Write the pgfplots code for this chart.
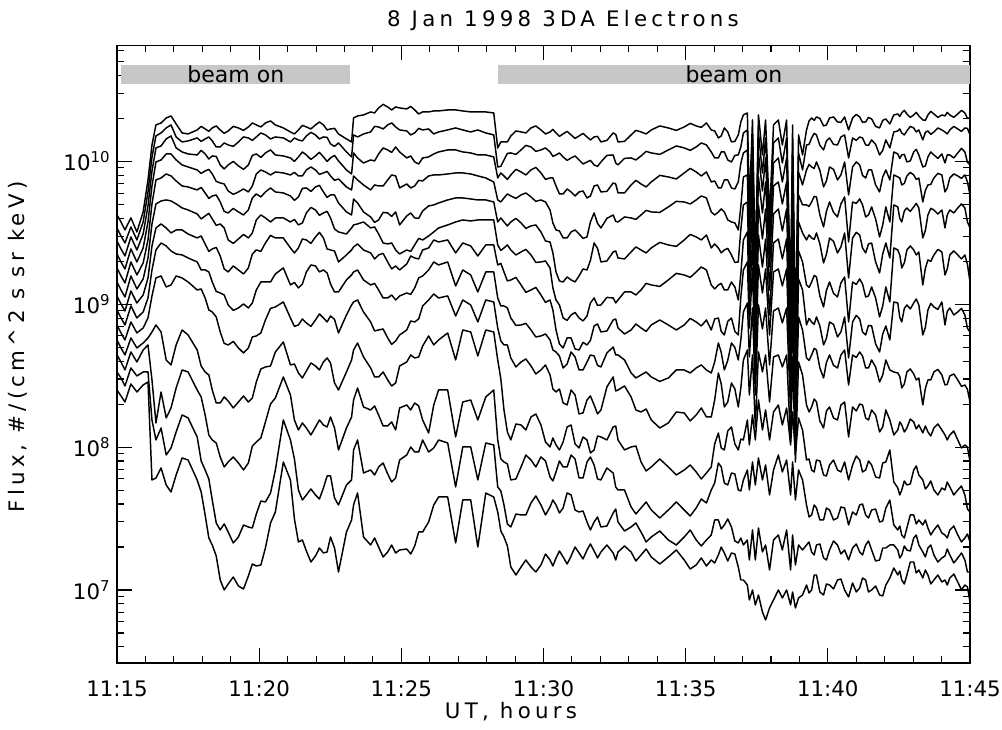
\documentclass[border=0pt]{standalone}
\usepackage{pgfplots}
\pgfplotsset{compat=1.18}
\usepackage{pgfplotstable}
\usepackage{fontspec}
\setmainfont{DejaVu Sans}
\newfontfamily\spaced{DejaVu Sans}[LetterSpace=20]

% t: minutes after 11:15 UT;  c1..c13: log10 of flux (#/(cm^2 s sr keV)) per channel
\pgfplotstableread[row sep=\\]{
t c1 c2 c3 c4 c5 c6 c7 c8 c9 c10 c11 c12 c13\\
0.00 9.625 9.534 9.443 9.352 9.254 9.156 9.058 8.960 8.855 8.750 8.645 8.526 8.400\\
0.14 9.576 9.478 9.387 9.296 9.198 9.100 9.002 8.904 8.799 8.694 8.596 8.484 8.358\\
0.28 9.520 9.429 9.338 9.247 9.149 9.051 8.953 8.855 8.750 8.645 8.540 8.428 8.316\\
0.49 9.604 9.541 9.471 9.387 9.296 9.198 9.093 8.988 8.876 8.764 8.666 8.554 8.442\\
0.70 9.506 9.450 9.380 9.296 9.205 9.107 9.009 8.904 8.799 8.694 8.596 8.498 8.386\\
0.92 9.646 9.576 9.492 9.394 9.289 9.177 9.065 8.946 8.834 8.729 8.680 8.526 8.435\\
1.09 9.870 9.786 9.688 9.576 9.450 9.324 9.184 9.044 8.904 8.764 8.715 8.526 8.456\\
1.23 10.115 10.031 9.933 9.828 9.702 9.562 9.408 9.240 9.058 8.806 8.470 8.190 7.770\\
1.37 10.255 10.178 10.094 9.996 9.870 9.702 9.534 9.380 9.184 8.855 8.169 8.050 7.784\\
1.55 10.269 10.199 10.108 10.010 9.884 9.723 9.562 9.429 9.198 8.806 8.386 8.134 7.854\\
1.73 10.304 10.234 10.157 10.052 9.912 9.730 9.534 9.408 9.121 8.610 8.204 7.945 7.735\\
1.90 10.318 10.255 10.178 10.052 9.898 9.723 9.499 9.373 9.135 8.575 8.274 7.994 7.686\\
2.08 10.262 10.171 10.094 10.010 9.863 9.702 9.520 9.352 9.198 8.715 8.414 8.106 7.805\\
2.29 10.199 10.136 10.066 9.975 9.828 9.674 9.520 9.345 9.184 8.820 8.540 8.225 7.924\\
2.50 10.192 10.143 10.052 9.961 9.821 9.660 9.492 9.324 9.156 8.785 8.526 8.204 7.910\\
2.82 10.220 10.164 10.045 9.940 9.800 9.632 9.464 9.296 9.100 8.680 8.400 8.071 7.770\\
2.96 10.245 10.140 10.077 9.916 9.818 9.597 9.478 9.240 9.107 8.568 8.351 7.903 7.686\\
3.10 10.227 10.157 10.052 9.933 9.779 9.618 9.422 9.240 9.044 8.526 8.225 7.840 7.525\\
3.23 10.210 10.171 10.017 9.944 9.741 9.636 9.370 9.226 8.960 8.505 8.085 7.777 7.364\\
3.35 10.234 10.143 10.038 9.912 9.758 9.597 9.387 9.156 8.946 8.400 8.050 7.630 7.315\\
3.49 10.248 10.101 10.035 9.860 9.765 9.552 9.398 9.090 8.911 8.309 8.029 7.469 7.238\\
3.63 10.220 10.101 9.975 9.849 9.716 9.562 9.338 9.079 8.806 8.309 7.931 7.420 7.070\\
3.77 10.196 10.129 9.947 9.842 9.650 9.534 9.247 9.065 8.726 8.351 7.861 7.462 7.000\\
3.91 10.213 10.115 9.975 9.793 9.639 9.450 9.226 8.995 8.715 8.323 7.896 7.406 7.042\\
4.09 10.245 10.105 10.000 9.769 9.671 9.426 9.268 8.957 8.740 8.274 7.931 7.329 7.091\\
4.27 10.234 10.136 9.968 9.786 9.646 9.457 9.240 8.974 8.694 8.316 7.889 7.371 7.028\\
4.45 10.217 10.171 9.944 9.807 9.625 9.489 9.212 9.002 8.659 8.358 7.840 7.455 7.007\\
4.62 10.241 10.164 9.975 9.786 9.660 9.464 9.254 8.974 8.694 8.316 7.889 7.441 7.098\\
4.76 10.269 10.147 10.042 9.828 9.744 9.499 9.352 9.009 8.771 8.344 8.008 7.434 7.182\\
4.90 10.255 10.171 10.052 9.912 9.772 9.590 9.380 9.100 8.778 8.456 8.036 7.532 7.168\\
5.06 10.241 10.199 10.028 9.940 9.751 9.625 9.370 9.156 8.799 8.547 8.064 7.623 7.175\\
5.22 10.269 10.185 10.059 9.926 9.786 9.604 9.429 9.156 8.890 8.561 8.176 7.616 7.294\\
5.40 10.283 10.157 10.080 9.905 9.814 9.576 9.482 9.156 8.971 8.568 8.302 7.679 7.469\\
5.57 10.255 10.171 10.045 9.926 9.786 9.604 9.464 9.212 8.981 8.666 8.344 7.840 7.546\\
5.85 10.234 10.164 10.038 9.919 9.779 9.604 9.464 9.254 9.016 8.736 8.491 8.190 7.896\\
6.10 10.206 10.136 10.024 9.905 9.758 9.576 9.394 9.135 8.904 8.575 8.365 8.050 7.770\\
6.24 10.192 10.164 10.000 9.923 9.727 9.594 9.359 9.153 8.845 8.582 8.190 7.917 7.497\\
6.38 10.220 10.150 10.031 9.898 9.751 9.555 9.394 9.114 8.855 8.519 8.120 7.700 7.336\\
6.52 10.252 10.143 10.066 9.898 9.811 9.569 9.457 9.142 8.897 8.484 8.169 7.630 7.350\\
6.66 10.241 10.178 10.045 9.940 9.814 9.639 9.450 9.226 8.869 8.533 8.134 7.665 7.273\\
6.82 10.227 10.203 10.014 9.961 9.790 9.678 9.426 9.275 8.845 8.589 8.085 7.707 7.196\\
6.98 10.255 10.185 10.038 9.940 9.821 9.660 9.471 9.268 8.890 8.568 8.141 7.665 7.238\\
7.12 10.276 10.157 10.063 9.909 9.832 9.622 9.503 9.226 8.932 8.540 8.190 7.637 7.294\\
7.26 10.255 10.171 10.031 9.919 9.786 9.639 9.464 9.240 8.904 8.596 8.155 7.714 7.259\\
7.39 10.220 10.168 10.000 9.930 9.748 9.650 9.387 9.219 8.876 8.624 8.141 7.798 7.266\\
7.51 10.227 10.122 10.024 9.898 9.765 9.604 9.380 9.142 8.918 8.589 8.211 7.798 7.371\\
7.65 10.231 10.105 10.042 9.867 9.765 9.527 9.373 9.086 8.894 8.449 8.134 7.644 7.294\\
7.79 10.192 10.129 10.003 9.877 9.709 9.506 9.296 9.086 8.799 8.400 7.980 7.595 7.126\\
8.07 10.157 10.066 9.940 9.821 9.646 9.492 9.345 9.170 8.925 8.526 8.134 7.735 7.406\\
8.25 10.136 10.031 9.912 9.800 9.625 9.534 9.380 9.205 8.995 8.610 8.211 7.770 7.490\\
8.32 10.304 10.185 10.059 9.898 9.737 9.555 9.401 9.226 9.016 8.680 8.330 7.980 7.595\\
8.46 10.318 10.171 10.024 9.870 9.709 9.562 9.422 9.240 9.030 8.729 8.414 8.050 7.679\\
8.67 10.325 10.192 9.989 9.835 9.646 9.576 9.380 9.170 8.946 8.631 8.281 7.819 7.371\\
8.92 10.346 10.206 10.010 9.800 9.611 9.534 9.359 9.135 8.876 8.554 8.260 7.840 7.315\\
9.06 10.339 10.245 10.003 9.835 9.573 9.541 9.317 9.146 8.813 8.491 8.288 7.805 7.364\\
9.20 10.374 10.241 10.052 9.828 9.590 9.492 9.345 9.100 8.820 8.491 8.225 7.861 7.301\\
9.36 10.399 10.227 10.094 9.828 9.643 9.429 9.356 9.044 8.827 8.526 8.148 7.889 7.231\\
9.52 10.381 10.255 10.080 9.870 9.639 9.422 9.296 9.044 8.764 8.470 8.148 7.812 7.266\\
9.66 10.360 10.269 10.063 9.905 9.615 9.429 9.247 9.065 8.719 8.428 8.176 7.756 7.315\\
9.80 10.381 10.241 10.101 9.898 9.646 9.380 9.268 9.030 8.743 8.449 8.120 7.784 7.259\\
9.94 10.374 10.220 10.066 9.814 9.555 9.352 9.240 9.058 8.785 8.568 8.274 7.910 7.280\\
10.19 10.367 10.213 10.024 9.842 9.618 9.380 9.282 9.079 8.820 8.596 8.295 7.945 7.287\\
10.33 10.385 10.185 10.038 9.814 9.639 9.370 9.338 9.069 8.883 8.645 8.260 8.001 7.252\\
10.47 10.360 10.199 9.996 9.828 9.604 9.415 9.324 9.114 8.876 8.624 8.309 7.966 7.308\\
10.61 10.332 10.231 9.982 9.867 9.601 9.461 9.317 9.184 8.897 8.631 8.288 7.966 7.406\\
10.75 10.346 10.220 10.024 9.863 9.653 9.450 9.380 9.198 8.988 8.708 8.190 8.050 7.406\\
10.96 10.346 10.227 10.031 9.898 9.688 9.478 9.394 9.240 9.030 8.778 8.099 7.966 7.476\\
11.14 10.353 10.192 10.052 9.905 9.695 9.506 9.450 9.296 9.072 8.715 8.295 7.994 7.595\\
11.31 10.353 10.206 10.066 9.905 9.709 9.534 9.436 9.275 9.044 8.750 8.400 8.050 7.651\\
11.63 10.360 10.220 10.080 9.912 9.730 9.555 9.450 9.296 9.058 8.799 8.400 8.029 7.651\\
11.91 10.360 10.234 10.080 9.919 9.744 9.576 9.359 9.128 8.918 8.610 8.071 7.721 7.329\\
12.16 10.353 10.220 10.066 9.919 9.744 9.590 9.429 9.240 9.030 8.820 8.316 8.001 7.630\\
12.44 10.346 10.206 10.059 9.912 9.737 9.583 9.408 9.205 8.995 8.806 8.330 8.001 7.630\\
12.69 10.346 10.220 10.045 9.898 9.730 9.590 9.338 9.086 8.876 8.638 8.190 7.770 7.301\\
12.97 10.346 10.199 10.045 9.884 9.730 9.590 9.415 9.226 9.030 8.820 8.351 8.029 7.679\\
13.25 10.339 10.185 10.031 9.856 9.716 9.590 9.415 9.226 9.016 8.806 8.400 8.015 7.651\\
13.39 10.094 9.961 9.884 9.730 9.576 9.415 9.275 9.044 8.834 8.610 8.050 7.721 7.546\\
13.50 10.136 9.965 9.919 9.716 9.604 9.377 9.286 8.988 8.743 8.477 7.917 7.693 7.413\\
13.61 10.136 10.010 9.898 9.744 9.576 9.394 9.226 8.988 8.715 8.260 7.896 7.595 7.371\\
13.73 10.136 10.056 9.874 9.772 9.548 9.415 9.163 8.974 8.715 8.106 7.882 7.462 7.308\\
13.85 10.178 10.059 9.905 9.758 9.576 9.380 9.170 8.904 8.624 8.050 7.770 7.441 7.161\\
14.03 10.213 10.049 9.944 9.741 9.601 9.345 9.188 8.852 8.561 8.162 7.777 7.532 7.105\\
14.21 10.206 10.080 9.926 9.765 9.569 9.366 9.135 8.855 8.596 8.155 7.861 7.525 7.161\\
14.38 10.199 10.112 9.905 9.779 9.531 9.384 9.083 8.866 8.617 8.120 7.945 7.525 7.210\\
14.56 10.234 10.101 9.940 9.751 9.548 9.345 9.100 8.820 8.568 8.211 7.910 7.609 7.161\\
14.73 10.248 10.070 9.958 9.720 9.555 9.293 9.118 8.771 8.512 8.232 7.861 7.658 7.126\\
14.91 10.220 10.080 9.919 9.730 9.506 9.296 9.065 8.778 8.540 8.155 7.931 7.595 7.175\\
15.07 10.192 10.094 9.874 9.716 9.443 9.303 9.013 8.792 8.575 8.036 7.903 7.525 7.252\\
15.23 10.206 10.066 9.884 9.660 9.436 9.254 9.030 8.750 8.505 8.001 7.791 7.581 7.210\\
15.33 10.224 10.035 9.884 9.569 9.359 9.114 8.960 8.680 8.407 8.064 7.763 7.630 7.168\\
15.44 10.199 10.045 9.828 9.520 9.226 9.030 8.820 8.666 8.386 8.015 7.826 7.595 7.224\\
15.56 10.175 10.059 9.772 9.513 9.163 8.995 8.722 8.638 8.407 7.980 7.903 7.539 7.273\\
15.69 10.192 10.031 9.772 9.464 9.156 8.904 8.694 8.554 8.309 8.036 7.861 7.574 7.231\\
15.83 10.210 10.007 9.807 9.464 9.191 8.887 8.764 8.582 8.295 8.141 7.861 7.679 7.182\\
15.97 10.185 10.024 9.786 9.506 9.170 8.925 8.764 8.666 8.400 8.155 7.945 7.665 7.238\\
16.11 10.161 10.038 9.758 9.520 9.156 8.943 8.687 8.631 8.365 8.022 7.917 7.560 7.301\\
16.25 10.178 10.010 9.786 9.492 9.198 8.904 8.680 8.540 8.232 7.994 7.784 7.546 7.259\\
16.39 10.196 9.982 9.793 9.461 9.247 8.883 8.733 8.540 8.239 8.071 7.784 7.553 7.217\\
16.53 10.171 9.996 9.744 9.471 9.240 8.918 8.715 8.596 8.330 8.050 7.896 7.476 7.280\\
16.65 10.150 10.007 9.758 9.576 9.307 9.009 8.747 8.645 8.358 7.959 7.931 7.420 7.322\\
16.78 10.171 9.975 9.828 9.639 9.429 9.044 8.848 8.638 8.295 7.980 7.875 7.476 7.273\\
16.90 10.175 9.965 9.835 9.566 9.391 8.992 8.862 8.572 8.232 8.078 7.777 7.511 7.224\\
17.02 10.136 9.996 9.786 9.534 9.296 8.995 8.806 8.561 8.260 8.071 7.770 7.441 7.266\\
17.23 10.147 10.042 9.790 9.601 9.303 9.048 8.813 8.659 8.421 8.050 7.854 7.448 7.315\\
17.45 10.199 10.045 9.849 9.625 9.366 9.044 8.890 8.701 8.491 8.141 7.819 7.539 7.259\\
17.54 10.189 9.989 9.842 9.580 9.373 9.009 8.897 8.645 8.393 8.148 7.721 7.567 7.210\\
17.62 10.136 9.975 9.779 9.576 9.324 9.030 8.834 8.645 8.400 8.050 7.700 7.476 7.266\\
17.85 10.140 10.021 9.779 9.611 9.317 9.086 8.792 8.610 8.428 7.980 7.700 7.413 7.308\\
18.08 10.185 10.024 9.835 9.604 9.366 9.086 8.820 8.519 8.351 8.001 7.581 7.441 7.266\\
18.25 10.217 10.010 9.867 9.594 9.401 9.065 8.862 8.484 8.260 8.008 7.532 7.469 7.203\\
18.43 10.206 10.038 9.842 9.625 9.380 9.100 8.834 8.505 8.246 7.896 7.574 7.406 7.245\\
18.61 10.192 10.070 9.821 9.657 9.359 9.146 8.810 8.526 8.267 7.833 7.616 7.336 7.287\\
18.79 10.220 10.059 9.856 9.646 9.394 9.135 8.855 8.491 8.190 7.861 7.560 7.371 7.231\\
19.09 10.248 10.049 9.902 9.643 9.433 9.125 8.890 8.460 8.134 7.917 7.504 7.413 7.182\\
19.39 10.234 10.080 9.891 9.681 9.415 9.170 8.855 8.484 8.169 7.861 7.560 7.350 7.231\\
19.67 10.217 10.108 9.877 9.720 9.405 9.216 8.820 8.540 8.246 7.805 7.616 7.315 7.280\\
19.95 10.241 10.094 9.919 9.716 9.450 9.205 8.855 8.540 8.239 7.840 7.560 7.371 7.210\\
20.16 10.266 10.077 9.951 9.702 9.489 9.188 8.901 8.519 8.183 7.875 7.518 7.420 7.147\\
20.37 10.248 10.101 9.926 9.730 9.471 9.226 8.876 8.554 8.225 7.826 7.574 7.350 7.175\\
20.55 10.238 10.129 9.898 9.758 9.450 9.261 8.848 8.575 8.274 7.777 7.637 7.308 7.224\\
20.73 10.269 10.115 9.926 9.744 9.485 9.240 8.890 8.540 8.211 7.819 7.609 7.350 7.168\\
20.90 10.220 10.066 9.856 9.646 9.394 9.135 8.820 8.519 8.211 7.861 7.700 7.385 7.210\\
21.02 10.213 10.024 9.863 9.625 9.422 9.107 8.897 8.596 8.330 8.022 7.749 7.490 7.189\\
21.15 10.164 10.024 9.814 9.646 9.394 9.135 8.904 8.729 8.519 8.099 7.889 7.490 7.245\\
21.25 10.178 10.066 9.814 9.667 9.359 9.146 8.810 8.663 8.442 7.994 7.861 7.427 7.301\\
21.36 10.234 10.066 9.870 9.646 9.380 9.100 8.785 8.540 8.281 7.980 7.749 7.455 7.259\\
21.48 10.206 10.010 9.870 9.590 9.391 9.100 8.880 8.607 8.316 8.113 7.735 7.497 7.203\\
21.61 10.136 9.996 9.814 9.576 9.345 9.156 8.904 8.729 8.449 8.141 7.819 7.441 7.259\\
21.73 10.140 10.042 9.807 9.569 9.293 9.121 8.810 8.698 8.407 8.022 7.812 7.343 7.252\\
21.85 10.185 10.045 9.856 9.520 9.296 9.030 8.785 8.610 8.281 7.980 7.700 7.329 7.161\\
21.94 10.276 10.101 9.986 9.685 9.524 9.212 9.048 8.750 8.414 8.057 7.693 7.364 7.070\\
22.03 10.325 10.199 10.059 9.891 9.695 9.450 9.240 8.946 8.610 8.050 7.770 7.315 7.070\\
22.17 10.339 10.220 10.080 9.905 9.716 9.506 9.296 9.009 8.680 8.190 7.840 7.350 7.035\\
22.24 9.695 9.569 9.457 9.324 9.156 8.981 8.834 8.631 8.365 8.015 7.700 7.210 6.930\\
22.35 10.290 10.164 10.024 9.856 9.667 9.457 9.254 8.974 8.645 8.225 7.896 7.420 7.000\\
22.45 9.275 9.149 9.058 8.946 8.799 8.645 8.540 8.365 8.141 8.050 7.735 7.210 6.895\\
22.56 10.325 10.199 10.059 9.891 9.695 9.485 9.275 8.995 8.666 8.330 7.924 7.434 6.965\\
22.70 10.045 9.919 9.793 9.639 9.457 9.261 9.079 8.827 8.526 8.120 7.770 7.266 6.846\\
22.81 10.290 10.164 10.024 9.856 9.667 9.457 9.247 8.974 8.645 8.260 7.875 7.315 6.790\\
22.95 9.625 9.499 9.394 9.261 9.100 8.925 8.785 8.575 8.316 8.050 7.665 7.140 6.874\\
23.09 10.255 10.129 9.989 9.828 9.632 9.429 9.226 8.953 8.631 8.246 7.840 7.350 6.930\\
23.26 10.290 10.164 10.024 9.856 9.667 9.457 9.247 8.974 8.645 8.295 7.945 7.385 7.000\\
23.40 10.115 9.989 9.856 9.702 9.513 9.317 9.128 8.869 8.561 8.155 7.826 7.280 6.944\\
23.55 10.290 10.164 10.024 9.856 9.667 9.457 9.247 8.974 8.645 8.274 7.910 7.420 7.000\\
23.69 9.065 8.939 8.862 8.757 8.624 8.477 8.393 8.239 8.036 8.015 7.665 7.140 6.895\\
23.76 10.255 10.129 9.989 9.828 9.632 9.429 9.226 8.953 8.631 8.246 7.896 7.385 6.986\\
23.86 8.785 8.659 8.596 8.505 8.386 8.253 8.197 8.071 7.896 7.945 7.630 7.175 6.874\\
23.97 10.185 10.059 9.926 9.765 9.576 9.373 9.177 8.911 8.596 8.204 7.840 7.315 6.944\\
24.11 10.045 9.940 9.835 9.695 9.499 9.296 9.100 8.820 8.505 8.120 7.770 7.280 6.965\\
24.25 10.220 10.115 9.940 9.695 9.450 9.135 8.855 8.624 8.295 7.910 7.595 7.315 7.035\\
24.34 10.283 10.119 9.979 9.685 9.485 9.118 8.901 8.607 8.246 7.917 7.511 7.336 6.979\\
24.43 10.304 10.164 9.961 9.716 9.464 9.156 8.876 8.645 8.281 7.840 7.525 7.266 7.000\\
24.52 10.287 10.196 9.951 9.755 9.454 9.202 8.859 8.691 8.337 7.826 7.595 7.245 7.105\\
24.60 10.311 10.185 9.996 9.751 9.499 9.191 8.911 8.680 8.316 7.910 7.574 7.315 7.105\\
24.72 10.301 10.112 9.937 9.625 9.422 9.058 8.848 8.554 8.183 7.903 7.490 7.322 6.986\\
24.85 10.248 10.080 9.821 9.541 9.289 8.981 8.715 8.484 8.134 7.805 7.490 7.224 6.965\\
24.95 10.255 10.143 9.863 9.650 9.349 9.097 8.761 8.593 8.253 7.798 7.574 7.210 7.042\\
25.06 10.304 10.164 9.961 9.716 9.464 9.156 8.876 8.645 8.281 7.875 7.560 7.280 7.035\\
25.20 10.311 10.119 9.944 9.643 9.440 9.076 8.859 8.572 8.204 7.910 7.490 7.343 7.007\\
25.34 10.276 10.115 9.870 9.611 9.359 9.051 8.771 8.554 8.190 7.840 7.504 7.315 7.070\\
25.46 10.273 10.171 9.905 9.702 9.401 9.149 8.806 8.645 8.295 7.826 7.581 7.252 7.077\\
25.59 10.311 10.185 9.996 9.751 9.499 9.191 8.911 8.680 8.316 7.896 7.574 7.280 7.000\\
25.73 10.220 10.024 9.765 9.436 9.184 8.876 8.624 8.435 8.071 7.770 7.455 7.210 6.951\\
25.87 10.304 10.164 9.961 9.716 9.464 9.156 8.876 8.645 8.281 7.875 7.546 7.294 7.049\\
26.00 10.329 10.147 9.996 9.706 9.503 9.139 8.922 8.628 8.253 7.938 7.525 7.322 6.986\\
26.12 10.311 10.171 9.975 9.737 9.485 9.177 8.897 8.666 8.302 7.910 7.595 7.266 7.014\\
26.22 10.273 10.164 9.902 9.695 9.394 9.142 8.806 8.638 8.295 7.826 7.602 7.245 7.084\\
26.33 10.276 10.115 9.884 9.611 9.359 9.051 8.785 8.554 8.204 7.840 7.525 7.315 7.070\\
26.43 10.308 10.112 9.940 9.625 9.422 9.058 8.852 8.554 8.190 7.903 7.504 7.343 6.986\\
26.54 10.297 10.150 9.940 9.681 9.429 9.121 8.848 8.610 8.260 7.875 7.560 7.280 7.000\\
26.68 10.245 10.119 9.835 9.597 9.296 9.044 8.722 8.561 8.225 7.791 7.567 7.203 7.028\\
26.82 10.234 10.045 9.786 9.471 9.219 8.911 8.666 8.456 8.106 7.784 7.476 7.210 6.965\\
26.93 10.287 10.077 9.891 9.555 9.352 8.988 8.792 8.505 8.141 7.889 7.483 7.294 6.958\\
27.04 10.297 10.150 9.940 9.681 9.429 9.121 8.848 8.610 8.260 7.896 7.574 7.294 7.035\\
27.18 10.262 10.094 9.870 9.576 9.324 9.016 8.750 8.540 8.190 7.980 7.630 7.315 7.084\\
27.32 10.325 10.206 10.066 9.905 9.695 9.394 9.016 8.526 8.085 7.756 7.455 7.315 7.154\\
27.46 10.332 10.213 10.052 9.891 9.681 9.380 9.009 8.519 8.120 7.714 7.420 7.280 7.105\\
27.53 10.315 10.227 10.021 9.884 9.601 9.345 8.908 8.495 8.176 7.665 7.448 7.224 7.133\\
27.60 10.339 10.199 10.045 9.835 9.576 9.254 8.876 8.414 8.155 7.700 7.385 7.245 7.070\\
27.69 10.357 10.185 10.049 9.846 9.653 9.289 8.971 8.442 8.106 7.763 7.364 7.308 7.042\\
27.78 10.332 10.213 9.996 9.898 9.674 9.380 8.995 8.526 8.134 7.735 7.434 7.280 7.105\\
27.90 10.308 10.245 10.003 9.923 9.650 9.408 8.967 8.547 8.197 7.742 7.525 7.273 7.196\\
28.02 10.325 10.234 10.066 9.905 9.681 9.380 9.009 8.512 8.176 7.840 7.525 7.364 7.196\\
28.11 10.343 10.206 10.084 9.874 9.706 9.345 9.037 8.470 8.127 7.868 7.462 7.385 7.119\\
28.20 10.318 10.220 10.045 9.884 9.674 9.366 8.995 8.484 8.155 7.805 7.490 7.315 7.140\\
28.34 10.290 10.150 9.961 9.716 9.464 9.135 8.785 8.295 8.099 7.770 7.455 7.266 7.084\\
28.43 10.287 10.203 9.968 9.797 9.517 9.251 8.838 8.411 8.148 7.707 7.490 7.231 7.140\\
28.52 10.325 10.213 10.031 9.835 9.625 9.310 8.960 8.470 8.106 7.728 7.434 7.294 7.105\\
28.62 10.350 10.189 10.066 9.839 9.671 9.300 9.006 8.470 8.078 7.763 7.385 7.315 7.042\\
28.73 10.332 10.206 10.045 9.884 9.660 9.345 8.981 8.526 8.134 7.700 7.420 7.245 7.070\\
28.87 10.308 10.234 10.021 9.916 9.632 9.384 8.964 8.544 8.162 7.665 7.455 7.196 7.105\\
29.01 10.325 10.220 10.052 9.905 9.660 9.366 9.016 8.505 8.120 7.714 7.399 7.224 7.056\\
29.12 10.318 10.206 9.989 9.786 9.534 9.205 8.855 8.435 8.085 7.700 7.385 7.238 7.070\\
29.20 10.343 10.192 10.045 9.814 9.625 9.247 8.950 8.439 8.050 7.756 7.364 7.287 7.035\\
29.29 10.325 10.220 10.045 9.884 9.660 9.345 8.974 8.498 8.085 7.721 7.420 7.245 7.084\\
29.43 10.308 10.245 10.024 9.912 9.639 9.373 8.925 8.512 8.113 7.665 7.448 7.189 7.112\\
29.57 10.332 10.227 10.059 9.898 9.674 9.345 8.946 8.470 8.050 7.700 7.385 7.224 7.056\\
29.70 10.357 10.210 10.091 9.881 9.702 9.317 8.971 8.425 7.994 7.728 7.336 7.259 7.000\\
29.82 10.339 10.234 10.066 9.905 9.674 9.345 8.925 8.435 8.015 7.665 7.364 7.210 7.035\\
29.91 10.301 10.231 9.993 9.856 9.576 9.279 8.831 8.404 8.001 7.567 7.392 7.126 7.021\\
30.00 10.304 10.185 9.975 9.765 9.534 9.156 8.806 8.316 7.896 7.546 7.336 7.126 6.916\\
}\fluxdata

\begin{document}
\begin{tikzpicture}
\begin{axis}[
  at={(0,0)}, anchor=south west,
  scale only axis, width=639.75pt, height=463pt,
  xmin=0, xmax=30,
  ymin=6.489, ymax=10.810,
  xtick={0,5,...,30},
  xticklabels={11:15,11:20,11:25,11:30,11:35,11:40,11:45},
  minor x tick num=4,
  ytick={7,8,9,10},
  yticklabels={10\textsuperscript{7},10\textsuperscript{8},10\textsuperscript{9},10\textsuperscript{10}},
  minor ytick={6.602,6.699,6.778,6.845,6.903,6.954,
    7.301,7.477,7.602,7.699,7.778,7.845,7.903,7.954,
    8.301,8.477,8.602,8.699,8.778,8.845,8.903,8.954,
    9.301,9.477,9.602,9.699,9.778,9.845,9.903,9.954,
    10.301,10.477,10.602,10.699,10.778},
  tick align=inside, tick pos=both,
  major tick length=11pt, minor tick length=5pt,
  every tick/.style={black, line width=0.8pt},
  axis line style={line width=1pt},
  tick label style={font=\fontsize{16}{19}\selectfont},
  xticklabel style={anchor=base, yshift=-25.5pt},
  yticklabel style={xshift=-1.5pt},
  clip=true,
]
\fill[black!22] (axis cs:0.14,10.542) rectangle (axis cs:8.21,10.675);
\fill[black!22] (axis cs:13.40,10.542) rectangle (axis cs:30,10.675);
\node[font=\fontsize{16.5}{19}\selectfont] at (axis cs:4.18,10.6085) {beam on};
\node[font=\fontsize{16.5}{19}\selectfont] at (axis cs:21.7,10.6085) {beam on};
\pgfplotsinvokeforeach{1,...,13}{
  \addplot[black, line width=1.1pt, line join=round, mark=none]
    table[x=t, y=c#1] {\fluxdata};
}
\end{axis}
\node[font={\spaced\fontsize{16}{19}\selectfont}, anchor=base] at (334.5pt,477pt) {8 Jan 1998 3DA Electrons};
\node[font={\spaced\fontsize{16}{19}\selectfont}, anchor=base] at (295.5pt,-42pt) {UT, hours};
\node[font={\spaced\fontsize{16}{19}\selectfont}, rotate=90] at (-74.25pt,237pt) {Flux, \#/(cm\textasciicircum 2 s sr keV)};
\pgfresetboundingbox
\path (-87.75pt,-50.25pt) rectangle (663.75pt,497.25pt);
\end{tikzpicture}
\end{document}
